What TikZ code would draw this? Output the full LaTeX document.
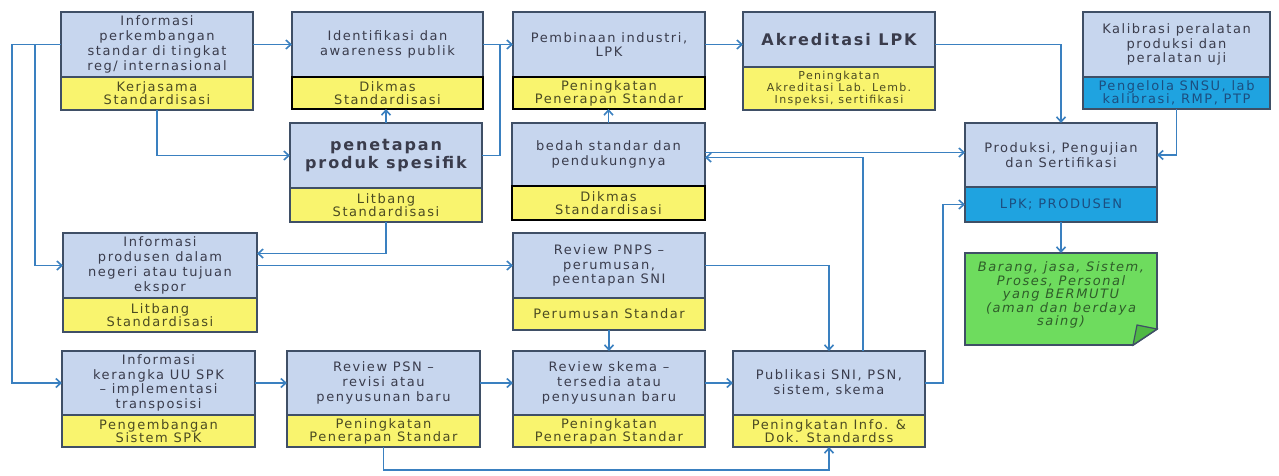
\documentclass[tikz,border=0pt]{standalone}
\usepackage{fontspec}
\setmainfont{DejaVu Sans}[LetterSpace=12]
\usetikzlibrary{arrows.meta,calc}
\definecolor{blueF}{HTML}{C7D6EE}
\definecolor{bord}{HTML}{3F4F66}
\definecolor{yelF}{HTML}{F9F46E}
\definecolor{cyanF}{HTML}{1FA3E0}
\definecolor{greenF}{HTML}{6EDC5E}
\definecolor{greenD}{HTML}{4FB844}
\definecolor{lineC}{HTML}{3A80C0}
\definecolor{txt}{HTML}{3A3C4C}
\definecolor{ytxt}{HTML}{4B4B22}
\definecolor{ctxt}{HTML}{1C4E80}
\definecolor{gtxt}{HTML}{2F5E2A}
\begin{document}
\begin{tikzpicture}[x=1pt,y=-1pt,
  part/.style={draw=bord, line width=1.8pt, outer sep=0pt, inner sep=2pt, align=center},
  top/.style={part, fill=blueF, text=txt, font=\fontsize{13}{14.8}\selectfont},
  ylw/.style={part, fill=yelF, text=ytxt, font=\fontsize{13}{13}\selectfont},
  ylwk/.style={ylw, draw=black, line width=2.2pt},
  cyn/.style={part, fill=cyanF, text=ctxt, font=\fontsize{13}{13}\selectfont},
  bigb/.style={font=\fontsize{16}{17.5}\selectfont\bfseries},
  ln/.style={draw=lineC, line width=1.6pt},
  arr/.style={ln, -{Straight Barb[length=5pt,width=9pt]}}]
\fill[white] (0,0) rectangle (1279,475);
\useasboundingbox (0,0) rectangle (1279,475);
% row 1
\node[top, minimum width=192, minimum height=65, anchor=north west] (B1) at (61,12) {Informasi\\perkembangan\\standar di tingkat\\reg/ internasional};
\node[ylw, minimum width=192, minimum height=33, anchor=north] (B1y) at (B1.south) {Kerjasama\\Standardisasi};
\node[top, minimum width=191, minimum height=65, anchor=north west] (B2) at (292,12) {Identifikasi dan\\awareness publik};
\node[ylwk, minimum width=191, minimum height=32, anchor=north] (B2y) at (B2.south) {Dikmas\\Standardisasi};
\node[top, minimum width=192, minimum height=65, anchor=north west] (B3) at (513,12) {Pembinaan industri,\\LPK};
\node[ylwk, minimum width=192, minimum height=32, anchor=north] (B3y) at (B3.south) {Peningkatan\\Penerapan Standar};
\node[top, bigb, minimum width=192, minimum height=55, anchor=north west] (B4) at (743,12) {Akreditasi LPK};
\node[ylw, font=\fontsize{11}{11.8}\selectfont, minimum width=192, minimum height=43, anchor=north] (B4y) at (B4.south) {Peningkatan\\Akreditasi Lab. Lemb.\\Inspeksi, sertifikasi};
\node[top, minimum width=187, minimum height=65, anchor=north west] (B5) at (1083,12) {Kalibrasi peralatan\\produksi dan\\peralatan uji};
\node[cyn, minimum width=187, minimum height=32, anchor=north] (B5y) at (B5.south) {Pengelola SNSU, lab\\kalibrasi, RMP, PTP};
% row 2
\node[top, bigb, minimum width=192, minimum height=65, anchor=north west] (B6) at (290,123) {penetapan\\produk spesifik};
\node[ylw, minimum width=192, minimum height=34, anchor=north] (B6y) at (B6.south) {Litbang\\Standardisasi};
\node[top, minimum width=193, minimum height=63, anchor=north west] (B7) at (512,123) {bedah standar dan\\pendukungnya};
\node[ylwk, minimum width=193, minimum height=34, anchor=north] (B7y) at (B7.south) {Dikmas\\Standardisasi};
\node[top, minimum width=192, minimum height=64, anchor=north west] (B8) at (965,123) {Produksi, Pengujian\\dan Sertifikasi};
\node[cyn, minimum width=192, minimum height=35, anchor=north] (B8y) at (B8.south) {LPK; PRODUSEN};
% note
\node[minimum width=192, minimum height=92, anchor=north west, inner sep=0pt, outer sep=0pt] (note) at (965,253) {};
\fill[greenF, draw=bord, line width=1.8pt] (note.north west) -- (note.north east) -- ([yshift=16pt]note.south east) -- ([xshift=-24pt]note.south east) -- (note.south west) -- cycle;
\fill[greenD, draw=bord, line width=1.2pt] ([yshift=16pt]note.south east) -- ([xshift=-24pt]note.south east) -- ([xshift=-20pt,yshift=20pt]note.south east) -- cycle;
\node[align=center, text=gtxt, font=\fontsize{13}{13.5}\selectfont\itshape] at ([yshift=4pt]note.center) {Barang, jasa, Sistem,\\Proses, Personal\\yang BERMUTU\\(aman dan berdaya\\saing)};
% row 3
\node[top, minimum width=194, minimum height=65, anchor=north west] (B9) at (63,233) {Informasi\\produsen dalam\\negeri atau tujuan\\ekspor};
\node[ylw, minimum width=194, minimum height=34, anchor=north] (B9y) at (B9.south) {Litbang\\Standardisasi};
\node[top, minimum width=192, minimum height=65, anchor=north west] (B10) at (513,233) {Review PNPS –\\perumusan,\\peentapan SNI};
\node[ylw, minimum width=192, minimum height=32, anchor=north] (B10y) at (B10.south) {Perumusan Standar};
% row 4
\node[top, minimum width=193, minimum height=64, anchor=north west] (B11) at (62,351) {Informasi\\kerangka UU SPK\\– implementasi\\transposisi};
\node[ylw, minimum width=193, minimum height=32, anchor=north] (B11y) at (B11.south) {Pengembangan\\Sistem SPK};
\node[top, minimum width=193, minimum height=64, anchor=north west] (B12) at (287,351) {Review PSN –\\revisi atau\\penyusunan baru};
\node[ylw, minimum width=193, minimum height=32, anchor=north] (B12y) at (B12.south) {Peningkatan\\Penerapan Standar};
\node[top, minimum width=192, minimum height=64, anchor=north west] (B13) at (513,351) {Review skema –\\tersedia atau\\penyusunan baru};
\node[ylw, minimum width=192, minimum height=32, anchor=north] (B13y) at (B13.south) {Peningkatan\\Penerapan Standar};
\node[top, minimum width=192, minimum height=64, anchor=north west] (B14) at (733,351) {Publikasi SNI, PSN,\\sistem, skema};
\node[ylw, minimum width=192, minimum height=32, anchor=north] (B14y) at (B14.south) {Peningkatan Info. \&\\Dok. Standardss};
% helper coordinates
\coordinate (j1) at (500,44.5);
\coordinate (c1) at ([yshift=2pt]B7.east);
\coordinate (c2) at ([yshift=-3pt]B7.east);
\coordinate (p14) at ([xshift=34pt]B14.north);
\coordinate (c3) at ([yshift=12pt]B9.east);
% connectors
\draw[arr] (B1.east) -- (B2.west);
\draw[arr] (B1y.south) |- (B6.west);
\draw[arr] (B1.west) -- ++(-49,0) |- (B11.west);
\draw[arr] (B1.west) -- ++(-26,0) |- (B9.west);
\draw[arr] (B2.east) -- (B3.west);
\draw[ln] (B6.east) -| (j1);
\draw[arr] (B6.north) -- (B6.north |- B2y.south);
\draw[arr] (B7.north) -- (B7.north |- B3y.south);
\draw[arr] (B3.east) -- (B3.east -| B4.west);
\draw[arr] (B4.east |- B3.east) -| (B8.north);
\draw[arr] (B5y.south) |- (B8.east);
\draw[arr] (c1) -- (c1 -| B8.west);
\draw[arr] (p14) |- (c2);
\draw[arr] (B10.east) -| (B14.north);
\draw[arr] (B6y.south) |- (c3);
\draw[arr] (B9.east) -- (B9.east -| B10.west);
\draw[arr] (B10y.south) -- (B10y.south |- B13.north);
\draw[arr] (B11.east) -- (B12.west);
\draw[arr] (B12.east) -- (B13.west);
\draw[arr] (B13.east) -- (B14.west);
\draw[arr] (B12y.south) -- ++(0,23) -| (B14y.south);
\draw[arr] (B14.east) -- ++(18,0) |- (B8y.west);
\draw[arr] (B8y.south) -- (note.north);
\end{tikzpicture}
\end{document}
